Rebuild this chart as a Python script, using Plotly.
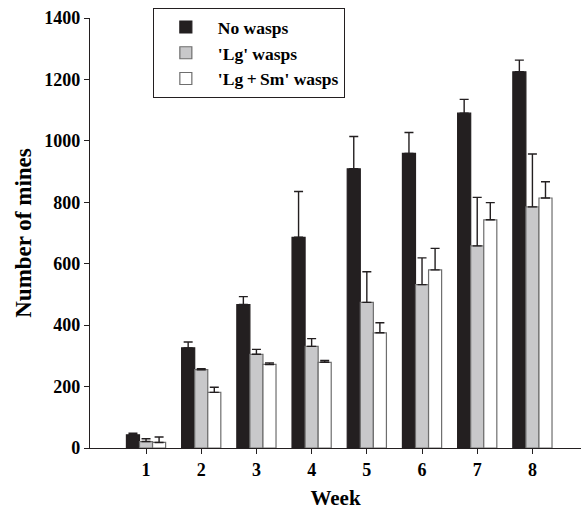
import plotly.graph_objects as go

weeks = [1, 2, 3, 4, 5, 6, 7, 8]
week_labels = ["1", "2", "3", "4", "5", "6", "7", "8"]

no_wasps = [43, 326, 467, 686, 909, 959, 1090, 1225]
no_wasps_err = [5, 19, 26, 149, 105, 68, 45, 38]

lg_wasps = [21, 255, 305, 331, 474, 532, 658, 785]
lg_wasps_err = [9, 3, 16, 25, 100, 87, 158, 172]

lgsm_wasps = [18, 181, 272, 279, 375, 580, 743, 814]
lgsm_wasps_err = [18, 17, 5, 6, 33, 70, 56, 53]

series_names = ["No wasps", "'Lg' wasps", "'Lg\u2009+\u2009Sm' wasps"]

FONT = "Liberation Serif"

fig = go.Figure()
specs = [
    (series_names[0], no_wasps, no_wasps_err, "#231f20", "#231f20"),
    (series_names[1], lg_wasps, lg_wasps_err, "#c8c8ca", "#6e6e6e"),
    (series_names[2], lgsm_wasps, lgsm_wasps_err, "#ffffff", "#6e6e6e"),
]
for name, vals, errs, fill, edge in specs:
    fig.add_trace(go.Bar(
        x=weeks, y=vals, name=name,
        marker=dict(color=fill, line=dict(color=edge, width=1.2)),
        error_y=dict(type="data", array=errs, symmetric=False,
                     arrayminus=[0] * len(errs),
                     color="#231f20", thickness=1.4, width=4.5),
    ))

fig.update_layout(
    width=581, height=510,
    margin=dict(l=90, r=0, t=18, b=62),
    paper_bgcolor="white", plot_bgcolor="white",
    barmode="group", bargap=0.29, bargroupgap=0,
    font=dict(family=FONT, color="black", size=18, weight="bold"),
    showlegend=True,
    legend=dict(
        x=0.128, y=1.023, xanchor="left", yanchor="top",
        bgcolor="white", bordercolor="#231f20", borderwidth=1,
        font=dict(family=FONT, size=17.5, weight="bold", color="black"),
        itemwidth=54, tracegroupgap=0,
    ),
    xaxis=dict(
        range=[-0.015, 8.88], tickmode="array", tickvals=weeks,
        ticktext=week_labels, showgrid=False, zeroline=False,
        showline=True, linecolor="#231f20", linewidth=1.2,
        ticks="outside", ticklen=5, tickcolor="#231f20",
        tickfont=dict(family=FONT, size=18, weight="bold"),
        title=dict(text="Week", font=dict(family=FONT, size=21, weight="bold"), standoff=14),
    ),
    yaxis=dict(
        range=[0, 1400], tickmode="linear", tick0=0, dtick=200,
        showgrid=False, zeroline=False,
        showline=True, linecolor="#231f20", linewidth=1.2,
        ticks="outside", ticklen=5, tickcolor="#231f20",
        tickfont=dict(family=FONT, size=18, weight="bold"),
        title=dict(text="Number of mines", font=dict(family=FONT, size=23, weight="bold"), standoff=6),
    ),
)

fig.write_html("out.html")
